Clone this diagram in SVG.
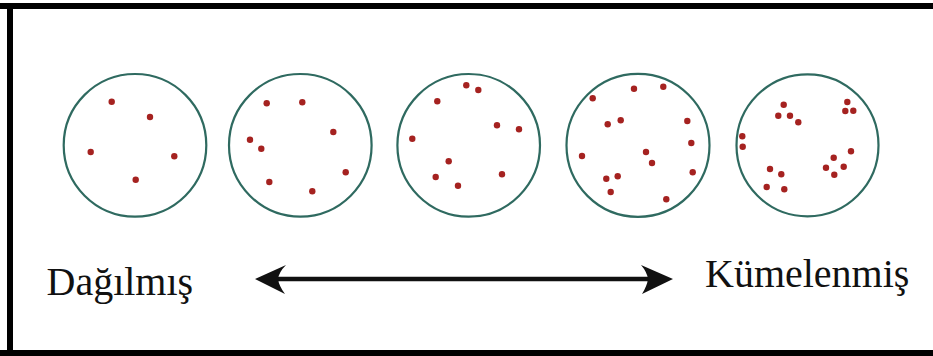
<svg xmlns="http://www.w3.org/2000/svg" width="933" height="356" viewBox="0 0 933 356">
<style>
.ring{fill:none;stroke:#2f6a60;stroke-width:2.2}
.dot{fill:#a52220}
.lbl{font-size:40px;fill:#111}
.frame{fill:#000}
</style>
<defs>
<circle id="d" r="3.2" class="dot"/>
</defs>
<rect width="933" height="356" fill="#fff"/>
<g id="frame">
<rect class="frame" x="0" y="3" width="933" height="6"/>
<rect class="frame" x="7" y="3" width="6" height="353"/>
<rect class="frame" x="0" y="350" width="933" height="6"/>
</g>
<g id="sample1">
<circle class="ring" cx="135" cy="145.3" r="71.3"/>
<use href="#d" x="111.7" y="101.7"/><use href="#d" x="150" y="117"/><use href="#d" x="90.7" y="152"/><use href="#d" x="174.3" y="156.3"/><use href="#d" x="135.7" y="179.7"/>
</g>
<g id="sample2">
<circle class="ring" cx="300.3" cy="145.3" r="71.3"/>
<use href="#d" x="266.7" y="103.3"/><use href="#d" x="302.3" y="102.3"/><use href="#d" x="333.3" y="132"/><use href="#d" x="250" y="139.7"/><use href="#d" x="261.3" y="148.7"/><use href="#d" x="345.7" y="172.3"/><use href="#d" x="269.3" y="182"/><use href="#d" x="312.3" y="191.3"/>
</g>
<g id="sample3">
<circle class="ring" cx="468.7" cy="145.3" r="71.3"/>
<use href="#d" x="466.3" y="85.3"/><use href="#d" x="478.3" y="90"/><use href="#d" x="437.3" y="101.3"/><use href="#d" x="497" y="125.3"/><use href="#d" x="519" y="129.3"/><use href="#d" x="412.3" y="138.7"/><use href="#d" x="448.7" y="161.3"/><use href="#d" x="502" y="174.3"/><use href="#d" x="435.7" y="177"/><use href="#d" x="458" y="185.7"/>
</g>
<g id="sample4">
<circle class="ring" cx="638" cy="145.3" r="71.5"/>
<use href="#d" x="634" y="88.7"/><use href="#d" x="663.3" y="86.7"/><use href="#d" x="592.7" y="98.3"/><use href="#d" x="607.7" y="124.3"/><use href="#d" x="620.7" y="120.3"/><use href="#d" x="687.3" y="121"/><use href="#d" x="691.3" y="143"/><use href="#d" x="646" y="152"/><use href="#d" x="582" y="156"/><use href="#d" x="652" y="163"/><use href="#d" x="692.7" y="172.3"/><use href="#d" x="606.3" y="178.7"/><use href="#d" x="617.7" y="176.3"/><use href="#d" x="610.7" y="192"/><use href="#d" x="666.3" y="199.3"/>
</g>
<g id="sample5">
<circle class="ring" cx="807.5" cy="145.3" r="71"/>
<use href="#d" x="783.7" y="104.7"/><use href="#d" x="847.3" y="102"/><use href="#d" x="778.3" y="115.7"/><use href="#d" x="790" y="115.7"/><use href="#d" x="845.3" y="111"/><use href="#d" x="853.3" y="110.7"/><use href="#d" x="798.3" y="122.3"/><use href="#d" x="742.3" y="136.3"/><use href="#d" x="742.7" y="146.7"/><use href="#d" x="851" y="151.3"/><use href="#d" x="833.7" y="157.7"/><use href="#d" x="826" y="167.7"/><use href="#d" x="843.7" y="166.7"/><use href="#d" x="834.3" y="174.7"/><use href="#d" x="770" y="169"/><use href="#d" x="781.3" y="174.3"/><use href="#d" x="766.7" y="187"/><use href="#d" x="784.3" y="189.3"/>
</g>
<g id="connectors">
<line x1="276" y1="279" x2="650" y2="279" stroke="#111" stroke-width="4.5"/>
<path d="M255,279 L286,265 Q279,272 278,279 Q279,286 285,294 Z" fill="#111"/>
<path d="M673,279 L641,265 Q647,272 648,279 Q647,286 642,294 Z" fill="#111"/>
</g>
<g id="label-left"><text class="lbl" font-family="'Liberation Serif', 'DejaVu Serif', serif" x="46.5" y="294.5">Dağılmış</text></g>
<g id="label-right"><text class="lbl" font-family="'Liberation Serif', 'DejaVu Serif', serif" x="705" y="286.5">Kümelenmiş</text></g>
</svg>
